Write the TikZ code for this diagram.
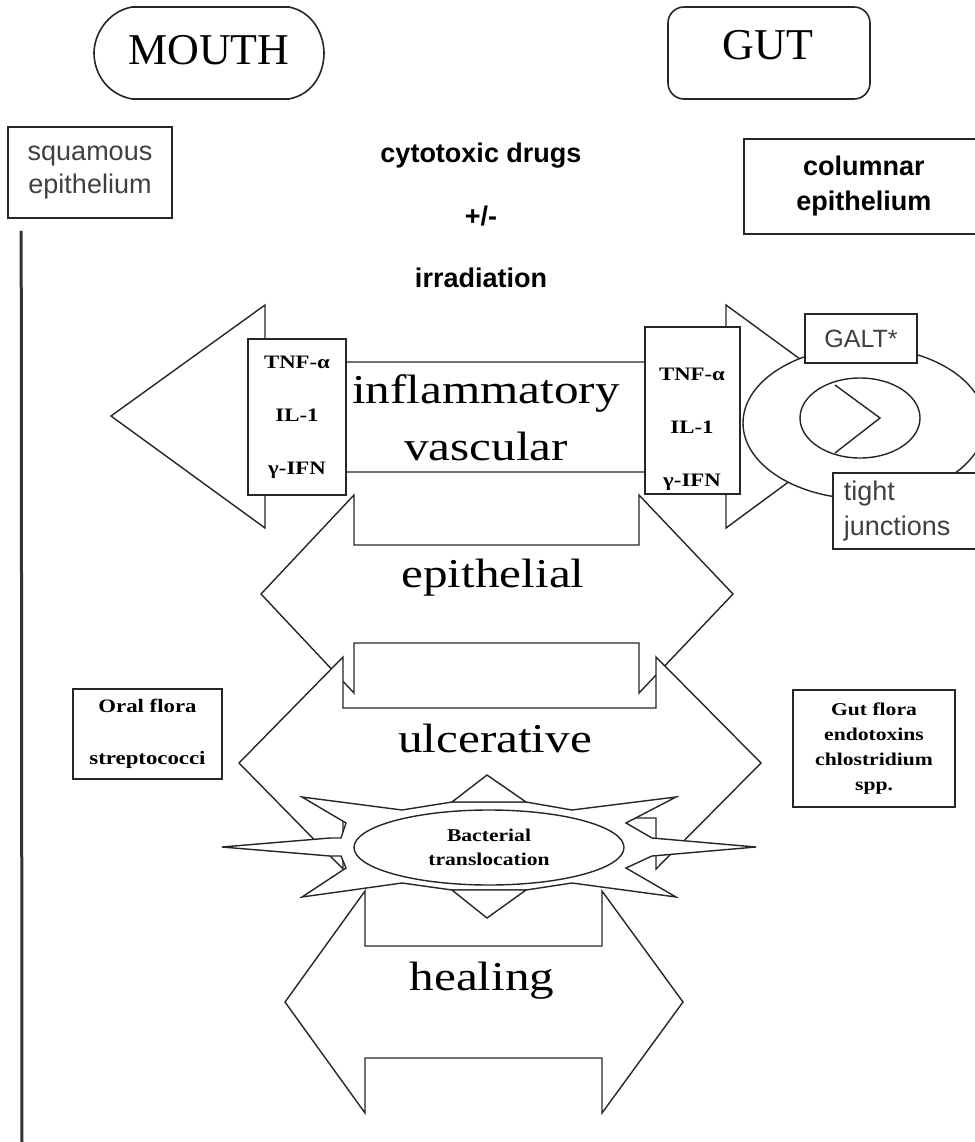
\documentclass[tikz,border=0pt]{standalone}
\usepackage{fontspec}
\setmainfont{Liberation Serif}
\newfontfamily\wideserif[FakeStretch=1.2]{Liberation Serif}
\newfontfamily\plainsans{Liberation Sans}
\newcommand{\setsize}[2]{\fontsize{#1}{#2}\selectfont}
\usetikzlibrary{shapes.geometric}

\tikzset{
  blockarrow/.style={draw=black!85, line width=1.4pt, fill=white, line join=miter},
  framebox/.style={draw=black!85, line width=1.6pt, fill=white, inner sep=0pt},
  spine/.style={draw=black!80, line width=3pt},
  heading/.style={font=\setsize{44}{50}, anchor=base},
  agenttext/.style={font=\plainsans\bfseries\setsize{27}{33}, anchor=base},
  tissuetext/.style={font=\plainsans\setsize{27}{33}, text=black!75},
  cytokines/.style={font=\wideserif\bfseries\setsize{19}{53}, align=center},
  floratext/.style={font=\wideserif\bfseries\setsize{19}{52}, align=center},
  stagelabel/.style={font=\wideserif\setsize{41}{48}, anchor=base},
}

\begin{document}
\begin{tikzpicture}[x=1pt,y=-1pt]
    \useasboundingbox (0,0) rectangle (974,1142);

    % sites
    \draw[framebox] (132,7) -- (289,7) .. controls (314,12) and (324,36) .. (324,53)
        .. controls (324,72) and (314,94) .. (289,99) -- (132,99)
        .. controls (106,94) and (94,72) .. (94,53) .. controls (94,36) and (106,12) .. (132,7) -- cycle;
    \draw[framebox, rounded corners=16pt] (668,7) rectangle (870,99);
    \node[heading] (mouth) at (209,65) {MOUTH};
    \node[heading] (gut) at (768,60) {GUT};

    \node[framebox, tissuetext, minimum width=164pt, minimum height=91pt, align=center] (squamous) at (90,172.5) {squamous\\epithelium};
    \node[framebox, anchor=north west, minimum width=240pt, minimum height=95pt, font=\plainsans\bfseries\setsize{27}{35}, align=center] (columnar) at (743,138) {columnar\\epithelium};

    \node[agenttext] (drugs) at (481,163) {cytotoxic drugs};
    \node[agenttext] (plusminus) at ([yshift=-62pt]drugs.base) {+/-};
    \node[agenttext] (irradiation) at ([yshift=-62pt]plusminus.base) {irradiation};

    \coordinate (spineend) at (22,1142);
    \draw[spine] ([xshift=14pt,yshift=-12pt]squamous.south west) -- (spineend);

    % inflammatory / vascular
    \draw[blockarrow] (111,416) -- (265,305) -- (265,362) -- (726,362) -- (726,305) -- (878,416)
        -- (726,528) -- (726,472) -- (265,472) -- (265,528) -- cycle;
    \node[framebox, cytokines, minimum width=98pt, minimum height=156pt] (ltnf) at (297,417) {TNF-α\\IL-1\\γ-IFN};
    \node[framebox, minimum width=95pt, minimum height=167pt] (rtnf) at (692.5,410.5) {};
    \node[cytokines] (rtnftext) at (692,429) {TNF-α\\IL-1\\γ-IFN};

    % gut barrier
    \draw[blockarrow] (864,423) ellipse [x radius=121pt, y radius=76pt];
    \draw[blockarrow] (860,418) ellipse [x radius=60pt, y radius=40pt];
    \draw[blockarrow, fill=none] (835,385) -- (880,418) -- (835,453);
    \node[framebox, minimum width=112pt, minimum height=49pt, font=\plainsans\setsize{25}{30}, text=black!75] (galt) at (861,338.5) {GALT*};
    \node[framebox, tissuetext, anchor=north west, minimum width=160pt, minimum height=76pt, text width=138pt, inner xsep=10pt, align=left, font=\plainsans\setsize{27}{35}] (tight) at (832,472) {tight\\junctions};

    % epithelial, ulcerative, healing
    \draw[blockarrow] (261,594) -- (354,495) -- (354,545) -- (639,545) -- (639,495) -- (733,594)
        -- (639,693) -- (639,643) -- (354,643) -- (354,693) -- cycle;
    \draw[blockarrow] (239,763) -- (343,657) -- (343,708) -- (656,708) -- (656,657) -- (761,763)
        -- (656,869) -- (656,818) -- (343,818) -- (343,869) -- cycle;
    \draw[blockarrow] (285,1002) -- (365,891) -- (365,946) -- (602,946) -- (602,891) -- (683,1002)
        -- (602,1113) -- (602,1058) -- (365,1058) -- (365,1113) -- cycle;

    % bacterial burst
    \draw[blockarrow] (222,847) -- (330,838) -- (341,838) -- (346,823) -- (302,797) -- (402,810)
        -- (452,802) -- (526,802) -- (572,810) -- (676,797) -- (626,823) -- (652,838) -- (756,847)
        -- (652,856) -- (626,868) -- (676,897) -- (572,883) -- (526,890) -- (452,890) -- (402,883)
        -- (302,897) -- (346,868) -- (341,856) -- (330,856) -- cycle;
    \draw[blockarrow] (452,802) -- (487,775) -- (526,802) -- cycle;
    \draw[blockarrow] (452,890) -- (487,918) -- (526,890) -- cycle;
    \node[framebox, ellipse, line width=1.4pt, minimum width=270pt, minimum height=75pt, font=\wideserif\bfseries\setsize{18}{24}, align=center] (bact) at (489,847.5) {Bacterial\\translocation};

    \node[stagelabel] (inflam) at (486,403) {inflammatory};
    \node[stagelabel] (vasc) at (486,460) {vascular};
    \node[stagelabel] (epith) at (493,587) {epithelial};
    \node[stagelabel] (ulcer) at (495,752) {ulcerative};
    \node[stagelabel] (heal) at (482,990) {healing};

    % flora
    \node[framebox, floratext, minimum width=149pt, minimum height=90pt] (oral) at (147.5,734) {Oral flora\\streptococci};
    \node[framebox, floratext, font=\wideserif\bfseries\setsize{18}{25}, minimum width=162pt, minimum height=117pt] (gutflora) at (874,748.5) {Gut flora\\endotoxins\\chlostridium\\spp.};
\end{tikzpicture}
\end{document}
